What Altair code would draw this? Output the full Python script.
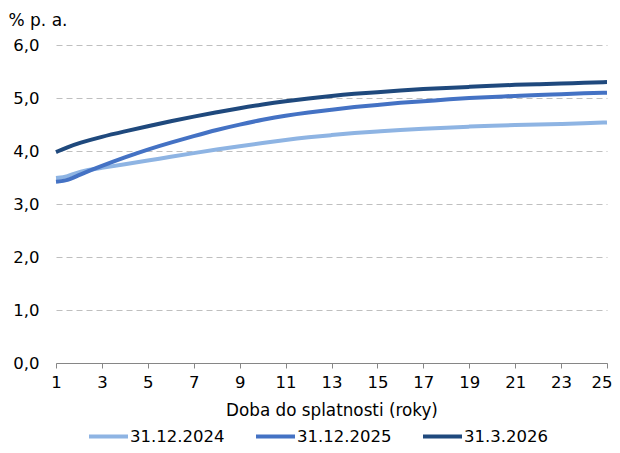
import altair as alt
import pandas as pd

years = [1, 1.5, 2, 3, 4, 5, 6, 7, 8, 9, 10, 11, 12, 13, 14, 15, 16, 17, 18, 19, 20, 21, 22, 23, 24, 25]
s2024 = [3.49, 3.51, 3.62, 3.68, 3.75, 3.82, 3.89, 3.96, 4.03, 4.09, 4.15, 4.21, 4.26, 4.30, 4.34, 4.37, 4.40, 4.42, 4.44, 4.46, 4.48, 4.49, 4.50, 4.51, 4.52, 4.54]
s2025 = [3.42, 3.44, 3.55, 3.72, 3.88, 4.03, 4.16, 4.28, 4.40, 4.50, 4.59, 4.67, 4.73, 4.78, 4.83, 4.87, 4.91, 4.94, 4.97, 5.00, 5.02, 5.04, 5.06, 5.07, 5.09, 5.10]
s2026 = [3.98, 4.07, 4.15, 4.27, 4.37, 4.47, 4.56, 4.65, 4.73, 4.81, 4.88, 4.94, 4.99, 5.04, 5.08, 5.11, 5.14, 5.17, 5.19, 5.21, 5.23, 5.25, 5.26, 5.27, 5.29, 5.30]
series_names = ["31.12.2024", "31.12.2025", "31.3.2026"]
colors = ["#8EB4E3", "#4472C4", "#1F497D"]
x_ticks = list(range(1, 26, 2))
y_ticks = [0, 1, 2, 3, 4, 5, 6]

rows = []
for name, vals in zip(series_names, [s2024, s2025, s2026]):
    for x, v in zip(years, vals):
        rows.append({"rok": x, "hodnota": v, "serie": name})
df = pd.DataFrame(rows)

FONT = "DejaVu Sans"

chart = alt.Chart(df).mark_line(strokeWidth=4, interpolate="basis").encode(
    x=alt.X("rok:Q",
            scale=alt.Scale(domain=[1, 25], nice=False, zero=False),
            axis=alt.Axis(values=x_ticks, title="Doba do splatnosti (roky)",
                          grid=False, domain=True, domainColor="#868686",
                          ticks=True, tickColor="#868686", tickSize=5,
                          labelFontSize=16.5, labelPadding=6, labelColor="#000000",
                          labelAlign={"expr": "datum.value == 25 ? 'right' : 'center'"},
                          labelOffset={"expr": "datum.value == 25 ? 5 : 0"},
                          titleFontSize=16.8, titleFontWeight="normal", titlePadding=12,
                          titleColor="#000000", labelFlush=False)),
    y=alt.Y("hodnota:Q",
            scale=alt.Scale(domain=[0, 6], nice=False),
            axis=alt.Axis(values=y_ticks, title="% p. a.",
                          labelExpr="replace(format(datum.value, '.1f'), '.', ',')",
                          grid=True, gridColor="#BFBFBF", gridDash=[6, 4], gridWidth=1,
                          domain=False, ticks=False,
                          labelFontSize=16.5, labelPadding=17, labelColor="#000000",
                          titleAngle=0, titleAlign="left", titleBaseline="alphabetic",
                          titleX=-48, titleY=-20, titleFontSize=17,
                          titleFontWeight="normal", titleColor="#000000")),
    color=alt.Color("serie:N",
                    scale=alt.Scale(domain=series_names, range=colors),
                    legend=alt.Legend(title=None, orient="none", direction="horizontal",
                                      legendX=31, legendY=370,
                                      symbolType="stroke", symbolSize=1521,
                                      symbolStrokeWidth=4, labelFontSize=16.5,
                                      labelColor="#000000", labelOffset=0,
                                      columnPadding=23)),
).properties(
    width=551, height=318,
    autosize=alt.AutoSizeParams(type="none"),
    padding={"left": 48, "top": 37, "right": 5, "bottom": 82},
).configure(font=FONT).configure_view(stroke=None)

chart.save("out.html", embed_options={"renderer": "svg", "actions": False})
